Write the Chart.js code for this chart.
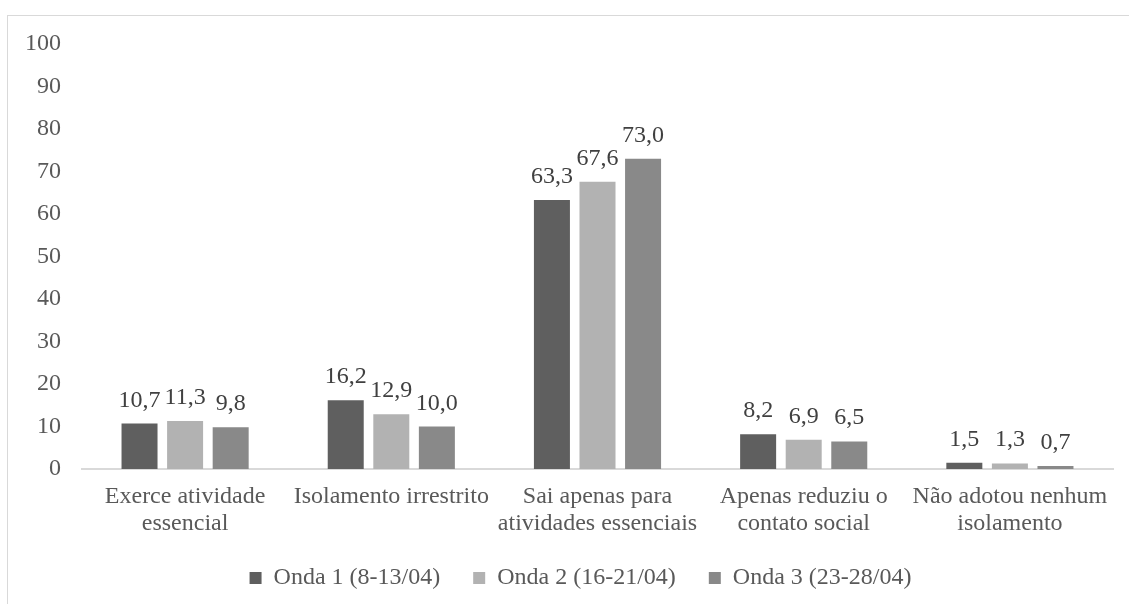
<!DOCTYPE html>
<html>
<head>
<meta charset="utf-8">
<script src="https://cdn.jsdelivr.net/npm/chart.js@4.4.1/dist/chart.umd.min.js"></script>
<style>
    html, body { margin: 0; padding: 0; background: #fff; overflow: hidden; }
    #frame {
        position: absolute; left: 7px; top: 15px; width: 1200px; height: 700px;
        border-left: 1.5px solid #d9d9d9; border-top: 1.5px solid #d9d9d9;
    }
    #wrap { position: absolute; left: 0; top: 0; width: 1129px; height: 630px; }
</style>
</head>
<body>
<div id="frame"></div>
<div id="wrap"><canvas id="isolChart"></canvas></div>
<script>
const categories = [
    ["Exerce atividade", "essencial"],
    ["Isolamento irrestrito"],
    ["Sai apenas para", "atividades essenciais"],
    ["Apenas reduziu o", "contato social"],
    ["Não adotou nenhum", "isolamento"]
];
const seriesNames = ["Onda 1 (8-13/04)", "Onda 2 (16-21/04)", "Onda 3 (23-28/04)"];
const onda1 = [10.7, 16.2, 63.3, 8.2, 1.5];
const onda2 = [11.3, 12.9, 67.6, 6.9, 1.3];
const onda3 = [9.8, 10.0, 73.0, 6.5, 0.7];
const yTicks = [0, 10, 20, 30, 40, 50, 60, 70, 80, 90, 100];

const cores = ['#5f5f5f', '#b2b2b2', '#898989'];
const textColor = '#595959';
const fonte = "'Liberation Serif', 'Times New Roman', serif";

// rótulos de valor acima das barras (sem plugin externo)
const valueLabels = {
    id: 'valueLabels',
    afterLayout(chart) {
        // legenda um pouco deslocada para a direita, como no original
        chart.legend.left += 24;
        chart.legend.right += 24;
    },
    afterDatasetsDraw(chart) {
        const ctx = chart.ctx;
        ctx.save();
        ctx.font = "24px " + fonte;
        ctx.fillStyle = '#404040';
        ctx.textAlign = 'center';
        ctx.textBaseline = 'alphabetic';
        chart.data.datasets.forEach((ds, i) => {
            chart.getDatasetMeta(i).data.forEach((bar, j) => {
                const txt = ds.data[j].toFixed(1).replace('.', ',');
                ctx.fillText(txt, bar.x, bar.y - 17);
            });
        });
        ctx.restore();
    }
};

const ctx = document.getElementById('isolChart').getContext('2d');
new Chart(ctx, {
    type: 'bar',
    data: {
        labels: categories,
        datasets: [
            { label: seriesNames[0], data: onda1, backgroundColor: cores[0] },
            { label: seriesNames[1], data: onda2, backgroundColor: cores[1] },
            { label: seriesNames[2], data: onda3, backgroundColor: cores[2] }
        ]
    },
    options: {
        responsive: true,
        maintainAspectRatio: false,
        animation: false,
        categoryPercentage: 0.663,
        barPercentage: 0.79,
        layout: { padding: { left: 0, right: 16, top: 44, bottom: 30 } },
        plugins: {
            tooltip: { enabled: false },
            legend: {
                position: 'bottom',
                labels: {
                    color: textColor,
                    font: { family: fonte, size: 24 },
                    boxWidth: 12,
                    boxHeight: 12,
                    padding: 33
                }
            }
        },
        scales: {
            x: {
                grid: { display: false, drawTicks: false },
                border: { display: true, color: '#d9d9d9', width: 2 },
                ticks: {
                    color: textColor,
                    font: { family: fonte, size: 24, lineHeight: 1.125 },
                    padding: 14,
                    maxRotation: 0,
                    autoSkip: false
                },
                afterFit(scale) { scale.height = 64; }
            },
            y: {
                min: 0,
                max: 100,
                grid: { display: false, drawTicks: false },
                border: { display: false },
                afterBuildTicks(scale) { scale.ticks = yTicks.map(v => ({ value: v })); },
                ticks: {
                    color: textColor,
                    font: { family: fonte, size: 24 },
                    padding: 21
                },
                afterFit(scale) { scale.width = 82; }
            }
        }
    },
    plugins: [valueLabels]
});
</script>
</body>
</html>
